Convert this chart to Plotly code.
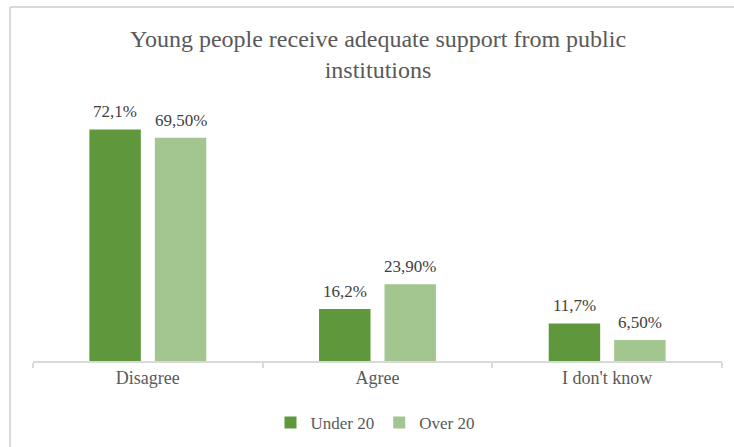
import plotly.graph_objects as go

# Survey answers by age group (percent of respondents)
categories = ["Disagree", "Agree", "I don't know"]
under_20 = [72.1, 16.2, 11.7]
over_20 = [69.5, 23.9, 6.5]
series_names = ["Under 20", "Over 20"]
label_decimals = [1, 2]

title_text = "Young people receive adequate support from public<br>institutions"

DARK = "#5f973d"
LIGHT = "#a3c58f"
SERIF = "Liberation Serif"

W, H = 734, 447
ML, MR, MT, MB = 33, 12, 104, 86
Y_MAX = 80


def fmt(v, d):
    return f"{v:.{d}f}".replace(".", ",") + "%"


fig = go.Figure()
for name, vals, color in zip(series_names, [under_20, over_20], [DARK, LIGHT]):
    fig.add_trace(go.Bar(
        name=name, x=categories, y=vals,
        marker=dict(color=color, line=dict(width=0)),
        hoverinfo="skip",
    ))

# value labels above each bar
plot_w = W - ML - MR
cat_w = plot_w / len(categories)
slot = cat_w * (1 - 0.43) / 2
for i, (vals, d) in enumerate(zip([under_20, over_20], label_decimals)):
    shift = (i - 0.5) * slot
    for c, v in zip(categories, vals):
        fig.add_annotation(
            x=c, y=v, xref="x", yref="y", text=fmt(v, d), showarrow=False,
            xshift=shift, yanchor="bottom", yshift=6,
            font=dict(family=SERIF, size=17, color="#404040"),
        )

# chart frame (top and left edges)
plot_h = H - MT - MB
def px_x(p):
    return (p - ML) / plot_w
def px_y(p):
    return (H - MB - p) / plot_h

frame = dict(color="#d9d9d9", width=2)
fig.add_shape(type="line", xref="paper", yref="paper",
              x0=px_x(10), x1=px_x(W + 5), y0=px_y(7), y1=px_y(7), line=frame)
fig.add_shape(type="line", xref="paper", yref="paper",
              x0=px_x(10), x1=px_x(10), y0=px_y(7), y1=px_y(H + 5), line=frame)

fig.update_layout(
    width=W, height=H,
    margin=dict(l=ML, r=MR, t=MT, b=MB),
    paper_bgcolor="white", plot_bgcolor="white",
    barmode="group", bargap=0.43, bargroupgap=0.214,
    title=dict(text=title_text, x=378 / W, xanchor="center",
               y=1 - 47 / H, yanchor="middle",
               font=dict(family=SERIF, size=24, color="#595959")),
    xaxis=dict(showline=True, linecolor="#d9d9d9", linewidth=1.5,
               ticks="outside", tickson="boundaries", ticklen=5,
               tickcolor="#d9d9d9", tickwidth=1.5,
               tickfont=dict(family=SERIF, size=18, color="#595959"),
               showgrid=False, range=[-0.5, 2.5]),
    yaxis=dict(visible=False, range=[0, Y_MAX], showgrid=False),
    legend=dict(orientation="h", x=375 / W, xanchor="center",
                xref="container", yref="container",
                y=1 - 423 / H, yanchor="middle",
                font=dict(family=SERIF, size=17, color="#595959"),
                itemwidth=30),
    showlegend=True,
)

fig.write_html("out.html")
